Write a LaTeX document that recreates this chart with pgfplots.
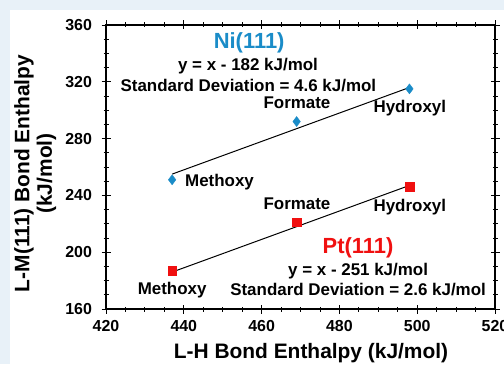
\documentclass[border=0pt]{standalone}
\usepackage{pgfplots}
\pgfplotsset{compat=1.18}
\usepackage{fontspec}
\setmainfont{Liberation Sans}
\definecolor{bgblue}{HTML}{E8F1F8}
\definecolor{niblue}{HTML}{1A8CC8}
\definecolor{ptred}{HTML}{F01010}
\begin{document}
\begin{tikzpicture}[x=1bp,y=1bp]
\useasboundingbox (0,0) rectangle (504,364);
\clip (0,0) rectangle (504,364);
\fill[bgblue] (0,0) rectangle (504,364);
\fill[white] (10,0) rectangle (504,354);
\begin{axis}[
  at={(106bp,55bp)}, anchor=south west,
  scale only axis, width=389bp, height=284bp,
  xmin=420, xmax=520, ymin=160, ymax=360,
  xtick={420,440,...,520}, ytick={160,200,...,360},
  minor x tick num=3, minor y tick num=3,
  tick align=center, major tick length=9bp, minor tick length=5bp,
  axis line style={line width=1.1pt}, every tick/.style={black, line width=0.9pt},
  xticklabels={420,440,460,480,500,520},
  yticklabels={160,200,240,280,320,360},
  tick label style={font=\fontsize{16}{18}\selectfont\bfseries},
  yticklabel style={xshift=-6bp},
  xticklabel style={yshift=-3bp},
  /pgf/number format/assume math mode=true,
  xlabel={L-H Bond Enthalpy (kJ/mol)},
  ylabel={L-M(111) Bond Enthalpy\\(kJ/mol)},
  ylabel style={at={(axis description cs:-0.182,0.477)}, anchor=center,
    align=center, font=\fontsize{21}{22.5}\selectfont\bfseries},
  xlabel style={at={(axis description cs:0.527,0)}, anchor=center, yshift=-44bp,
    font=\fontsize{21}{21}\selectfont\bfseries},
  clip=false,
]
\addplot[black, line width=1pt] coordinates {(437,255) (498,316)};
\addplot[black, line width=1pt] coordinates {(437,186) (498,247)};
\addplot[only marks, mark=diamond*, mark size=5bp, color=niblue] coordinates {(437,251) (469,292) (498,315)};
\addplot[only marks, mark=square*, mark size=4.3bp, color=ptred] coordinates {(437,187) (469,221) (498,246)};
\begin{scope}[font=\fontsize{17}{19}\selectfont\bfseries]
\node[text=niblue, font=\fontsize{22}{24}\selectfont\bfseries] at (axis cs:456.8,347.3) {Ni(111)};
\node at (axis cs:456.5,331.1) {y = x - 182 kJ/mol};
\node at (axis cs:456.6,317.7) {Standard Deviation = 4.6 kJ/mol};
\node at (axis cs:469.1,305.1) {Formate};
\node at (axis cs:498.1,301.5) {Hydroxyl};
\node[anchor=west, inner sep=0pt] at (axis cs:440.3,249.4) {Methoxy};
\node at (axis cs:469.1,234.0) {Formate};
\node at (axis cs:498.1,231.8) {Hydroxyl};
\node[text=ptred, font=\fontsize{22}{24}\selectfont\bfseries] at (axis cs:484.8,202.9) {Pt(111)};
\node at (axis cs:484.8,186.8) {y = x - 251 kJ/mol};
\node at (axis cs:484.8,173.4) {Standard Deviation = 2.6 kJ/mol};
\node at (axis cs:437.0,173.4) {Methoxy};
\end{scope}
\end{axis}
\end{tikzpicture}
\end{document}
